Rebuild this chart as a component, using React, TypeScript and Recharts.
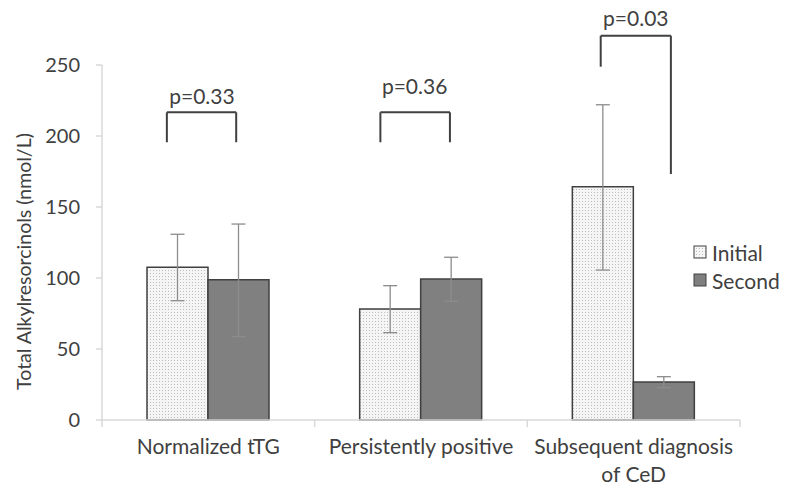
import React from 'react';
import { BarChart, Bar, XAxis, YAxis, ErrorBar, ReferenceLine, ReferenceDot, Legend } from 'recharts';

const FONT = 'Lato, "Open Sans", sans-serif';
const TEXT = '#404040';

const categories = ['Normalized tTG', 'Persistently positive', 'Subsequent diagnosis\nof CeD'];
const categoryPos = [0.5, 1.5, 2.5];
const seriesNames = ['Initial', 'Second'];
const initialValues = [107.5, 78.2, 164.3];
const initialLow = [84, 61.5, 105.6];
const initialHigh = [130.8, 94.6, 222];
const secondValues = [98.8, 99.3, 26.8];
const secondLow = [58.7, 83.6, 22.8];
const secondHigh = [138, 114.6, 30.5];
const yTicks = [0, 50, 100, 150, 200, 250];

const pLabels = ['p=0.33', 'p=0.36', 'p=0.03'];
const pLabelX = [0.47, 1.47, 2.51];
const pLabelY = [227.7, 234.5, 283];
const bracketLeftX = [0.305, 1.309, 2.345];
const bracketRightX = [0.631, 1.636, 2.675];
const bracketTopY = [216.7, 216.7, 270.6];
const bracketLeftEndY = [195.6, 195.6, 248.8];
const bracketRightEndY = [195.6, 195.6, 173.2];
const boundaryTicks = [0, 1, 2, 3];

const data = categories.map((c, i) => ({
  category: c,
  pos: categoryPos[i],
  initial: initialValues[i],
  second: secondValues[i],
  initialErr: [initialValues[i] - initialLow[i], initialHigh[i] - initialValues[i]],
  secondErr: [secondValues[i] - secondLow[i], secondHigh[i] - secondValues[i]],
}));

const CategoryTick = (props: any) => {
  const { x, y, payload } = props;
  const lines = String(payload.value).split('\n');
  return (
    <text x={x} y={y} textAnchor="middle" fill={TEXT} fontSize={21} fontFamily={FONT}>
      {lines.map((l, i) => (
        <tspan key={i} x={x} dy={i === 0 ? 26 : 28}>{l}</tspan>
      ))}
    </text>
  );
};

const YLabel = (props: any) => {
  const vb = props.viewBox || { x: 0, y: 65, width: 102, height: 355 };
  const cx = vb.x + 23;
  const cy = vb.y + vb.height / 2 + 19;
  return (
    <text
      x={cx}
      y={cy}
      transform={`rotate(-90 ${cx} ${cy})`}
      textAnchor="middle"
      dominantBaseline="central"
      fill={TEXT}
      fontSize={19.5}
      fontFamily={FONT}
    >
      Total Alkylresorcinols (nmol/L)
    </text>
  );
};

const LegendContent = () => (
  <div style={{ fontFamily: FONT, fontSize: 21, color: TEXT }}>
    {seriesNames.map((n, i) => (
      <div key={n} style={{ display: 'flex', alignItems: 'center', height: 28 }}>
        <svg width={14} height={14} style={{ marginRight: 5 }}>
          <rect x={1} y={1} width={12} height={12} fill={i === 0 ? 'url(#dots)' : '#808080'} stroke="#404040" strokeWidth={1} />
        </svg>
        <span>{n}</span>
      </div>
    ))}
  </div>
);

export default function App() {
  return (
    <div style={{ position: 'absolute', left: 0, top: 0, width: 785, height: 493, background: '#fff' }}>
      <BarChart
        width={785}
        height={493}
        data={data}
        margin={{ top: 65, right: 45, bottom: 0, left: 0 }}
        barGap={0}
      >
        <defs>
          <pattern id="dots" width="3" height="3" patternUnits="userSpaceOnUse">
            <rect width="3" height="3" fill="#f5f5f5" />
            <rect x="0" y="0" width="1" height="1" fill="#bdbdbd" />
          </pattern>
        </defs>
        <XAxis
          dataKey="category"
          height={73}
          axisLine={{ stroke: '#d9d9d9', strokeWidth: 1.5 }}
          tickLine={false}
          tick={<CategoryTick />}
          interval={0}
        />
        <XAxis xAxisId="num" dataKey="pos" type="number" domain={[0, 3]} allowDataOverflow hide />
        <YAxis
          width={102}
          domain={[0, 250]}
          ticks={yTicks}
          axisLine={{ stroke: '#d9d9d9', strokeWidth: 1.5 }}
          tickLine={{ stroke: '#d9d9d9', strokeWidth: 1.5 }}
          tickSize={6}
          tickMargin={16}
          tick={{ fill: TEXT, fontSize: 20, fontFamily: FONT }}
          label={<YLabel />}
        />
        <Bar dataKey="initial" name={seriesNames[0]} fill="url(#dots)" stroke="#404040" strokeWidth={1.5} barSize={61} isAnimationActive={false}>
          <ErrorBar dataKey="initialErr" width={7} stroke="#8c8c8c" strokeWidth={1.3} isAnimationActive={false} />
        </Bar>
        <Bar dataKey="second" name={seriesNames[1]} fill="#808080" stroke="#404040" strokeWidth={1.5} barSize={61} isAnimationActive={false}>
          <ErrorBar dataKey="secondErr" width={7} stroke="#8c8c8c" strokeWidth={1.3} isAnimationActive={false} />
        </Bar>
        {boundaryTicks.map((t) => (
          <ReferenceLine
            key={`bt${t}`}
            xAxisId="num"
            segment={[{ x: t, y: 0 }, { x: t, y: -5 }]}
            stroke="#d9d9d9"
            strokeWidth={1.5}
            ifOverflow="visible"
          />
        ))}
        {pLabels.map((p, i) => (
          <ReferenceLine
            key={`top${i}`}
            xAxisId="num"
            segment={[{ x: bracketLeftX[i], y: bracketTopY[i] }, { x: bracketRightX[i], y: bracketTopY[i] }]}
            stroke="#404040"
            strokeWidth={2}
            ifOverflow="visible"
          />
        ))}
        {pLabels.map((p, i) => (
          <ReferenceLine
            key={`left${i}`}
            xAxisId="num"
            segment={[{ x: bracketLeftX[i], y: bracketTopY[i] }, { x: bracketLeftX[i], y: bracketLeftEndY[i] }]}
            stroke="#404040"
            strokeWidth={2}
            ifOverflow="visible"
          />
        ))}
        {pLabels.map((p, i) => (
          <ReferenceLine
            key={`right${i}`}
            xAxisId="num"
            segment={[{ x: bracketRightX[i], y: bracketTopY[i] }, { x: bracketRightX[i], y: bracketRightEndY[i] }]}
            stroke="#404040"
            strokeWidth={2}
            ifOverflow="visible"
          />
        ))}
        {pLabels.map((p, i) => (
          <ReferenceDot
            key={`pl${i}`}
            xAxisId="num"
            x={pLabelX[i]}
            y={pLabelY[i]}
            r={0}
            stroke="none"
            fill="none"
            ifOverflow="visible"
            label={{ value: p, position: 'center', fill: TEXT, fontSize: 21, fontFamily: FONT }}
          />
        ))}
        <Legend
          layout="vertical"
          align="center"
          verticalAlign="middle"
          wrapperStyle={{ left: 693, top: 238, width: 92 }}
          content={<LegendContent />}
        />
      </BarChart>
    </div>
  );
}
